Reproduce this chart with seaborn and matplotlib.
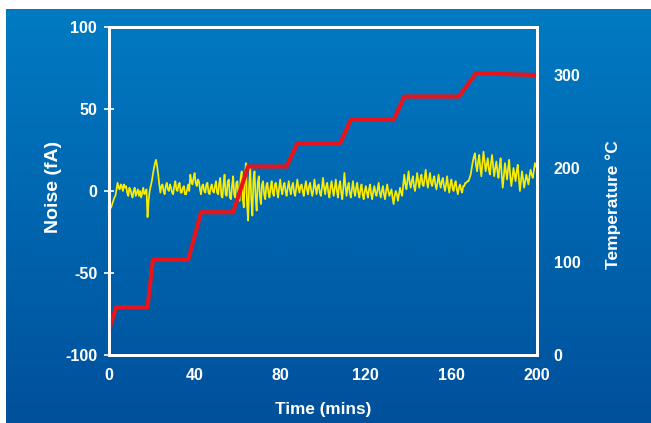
import numpy as np
import pandas as pd
import matplotlib
matplotlib.use("Agg")
import matplotlib.pyplot as plt
import seaborn as sns

# ---- data ----
# noise sampled every 0.5 min, one row per 10 minutes
noise_rows = [
    [-12, -11, -10, -8, -6, -4, -3, 1, 5, 2, 1, 4, 3, 0, 4, 2, 3, -1, -3, 2],
    [1, -2, -4, 0, 2, -3, -1, 1, -3, 0, -4, -1, 2, -2, -1, 1, -16, -6, 0, 3],
    [6, 10, 14, 17, 19, 15, 10, 4, -1, 3, 4, 0, -2, 3, 5, 1, 0, 4, 2, -1],
    [-2, 3, 6, 1, 0, 4, 5, -1, -1, 2, 3, -2, -2, 1, 4, 0, 10, 6, 4, 8],
    [11, 5, 3, 7, 6, 1, -2, 3, 4, 0, -1, 4, 5, -1, -2, 2, 4, 0, -1, 3],
    [6, -1, -2, 5, 8, -3, -4, 4, 10, -2, -3, 6, 7, -4, -5, 3, 9, -2, -4, 5],
    [6, -3, -6, 8, 12, -5, -10, 9, 17, -8, -18, 4, 14, -6, -15, 7, 12, -4, -12, 5],
    [9, -3, -8, 4, 6, -2, -5, 3, 5, -1, -4, 2, 6, -1, -3, 4, 5, 0, -4, 2],
    [7, 1, -2, 3, 5, 0, -3, 2, 6, 1, -2, 3, 5, -1, -3, 2, 7, 2, -1, 3],
    [4, 0, -3, 2, 6, 1, -2, 3, 5, 0, -3, 1, 7, 2, -2, 3, 4, -1, -3, 2],
    [8, 2, -2, 3, 5, -1, -4, 2, 6, 1, -3, 2, 7, 0, -4, 3, 6, -1, -5, 2],
    [11, 3, -3, 2, 5, -1, -4, 1, 6, 0, -3, 2, 5, -1, -4, 1, 4, -2, -5, 0],
    [3, -1, -4, 1, 4, -2, -5, 0, 3, -1, -3, 1, 5, -1, -4, 0, 3, -2, -5, 0],
    [4, 0, -3, -1, 1, -4, -8, -3, 0, -2, -6, -2, 2, -1, -3, 4, 10, 4, 1, 7],
    [12, 5, 2, 6, 9, 3, 0, 5, 11, 6, 2, 7, 10, 4, 3, 8, 13, 6, 2, 7],
    [11, 5, 3, 7, 9, 4, 1, 5, 10, 5, 2, 6, 8, 3, 0, 4, 9, 3, -1, 4],
    [7, 2, 0, 4, 6, 1, -2, 2, 4, 1, -1, 3, 3, 5, 5, 6, 6, 8, 10, 14],
    [18, 21, 23, 16, 12, 18, 22, 14, 9, 17, 24, 18, 12, 16, 20, 13, 10, 17, 22, 15],
    [9, 14, 18, 12, 8, 15, 20, 10, 2, 9, 17, 12, 7, 14, 19, 9, 3, 8, 14, 10],
    [6, 12, 16, 8, 0, 6, 12, 7, 2, 6, 10, 7, 4, 9, 13, 10, 8, 12, 17, 15],
]
noise_last = 14
noise_fa = [v for row in noise_rows for v in row] + [noise_last]
noise_time = [i * 0.5 for i in range(len(noise_fa))]

temp_time = [0, 3.3, 18, 20.5, 37, 43, 58, 65, 83, 88, 108, 113, 133, 138, 163.5, 171.5, 200]
temp_c = [27, 51, 51, 102, 102, 153, 153, 202, 202, 227, 227, 252, 252, 277, 277, 302, 300]

x_ticks = [0, 40, 80, 120, 160, 200]
noise_ticks = [-100, -50, 0, 50, 100]
temp_ticks = [0, 100, 200, 300]

noise_df = pd.DataFrame({"t": noise_time, "v": noise_fa})
temp_df = pd.DataFrame({"t": temp_time, "v": temp_c})

# ---- figure ----
W, H = 651, 423
fig = plt.figure(figsize=(W / 100, H / 100), dpi=100)
fig.patch.set_facecolor("white")
plt.rcParams["font.family"] = ["Liberation Sans", "DejaVu Sans"]

# gradient background
bg = fig.add_axes([6 / W, 0, 1 - 6 / W, 1 - 9 / H])
top = np.array([0, 123, 195]) / 255
bot = np.array([0, 80, 155]) / 255
g = np.linspace(0, 1, 256)[:, None]
img = top[None, None, :] * (1 - g[:, :, None]) + bot[None, None, :] * g[:, :, None]
img = np.repeat(img, 2, axis=1)
bg.imshow(img, aspect="auto", extent=[0, 1, 0, 1], interpolation="bilinear")
bg.set_axis_off()

ax = fig.add_axes([109 / W, 1 - 355 / H, (537 - 109) / W, (355 - 27) / H])
ax.set_facecolor("none")
ax2 = ax.twinx()

sns.lineplot(data=noise_df, x="t", y="v", ax=ax, color="#F8EC00", linewidth=1.25,
             estimator=None, sort=False)
sns.lineplot(data=temp_df, x="t", y="v", ax=ax2, color="#E8141C", linewidth=3.0,
             estimator=None, sort=False)

ax.set_xlim(0, 200)
ax.set_ylim(-100, 100)
ax2.set_ylim(0, 351.5)

lab_kw = dict(color="white", fontsize=11.5, fontweight="bold")
ax.set_xticks(x_ticks)
ax.set_xticklabels([str(v) for v in x_ticks], **lab_kw)
ax.set_yticks(noise_ticks)
ax.set_yticklabels([str(v) for v in noise_ticks], **lab_kw)
ax2.set_yticks(temp_ticks)
ax2.set_yticklabels([str(v) for v in temp_ticks], **lab_kw)

ax.tick_params(axis="y", direction="inout", length=7, width=1.2, colors="white", pad=5)
ax.tick_params(axis="x", length=0, colors="white", pad=9)
ax2.tick_params(axis="y", length=0, colors="white", pad=12)

ax.set_xlabel("Time (mins)", color="white", fontsize=12.3, fontweight="bold", labelpad=14)
ax.set_ylabel("Noise (fA)", color="white", fontsize=14, fontweight="bold")
ax.yaxis.set_label_coords((62 - 109) / 428, (355 - 187) / 328)
ax2.set_ylabel("Temperature \u00b0C", color="white", fontsize=12.5, fontweight="bold")
ax2.yaxis.set_label_coords((605 - 109) / 428, (355 - 205) / 328)

for a in (ax, ax2):
    for s in a.spines.values():
        s.set_color("white")
        s.set_linewidth(2)
    a.grid(False)

fig.savefig("out.png", dpi=100)
